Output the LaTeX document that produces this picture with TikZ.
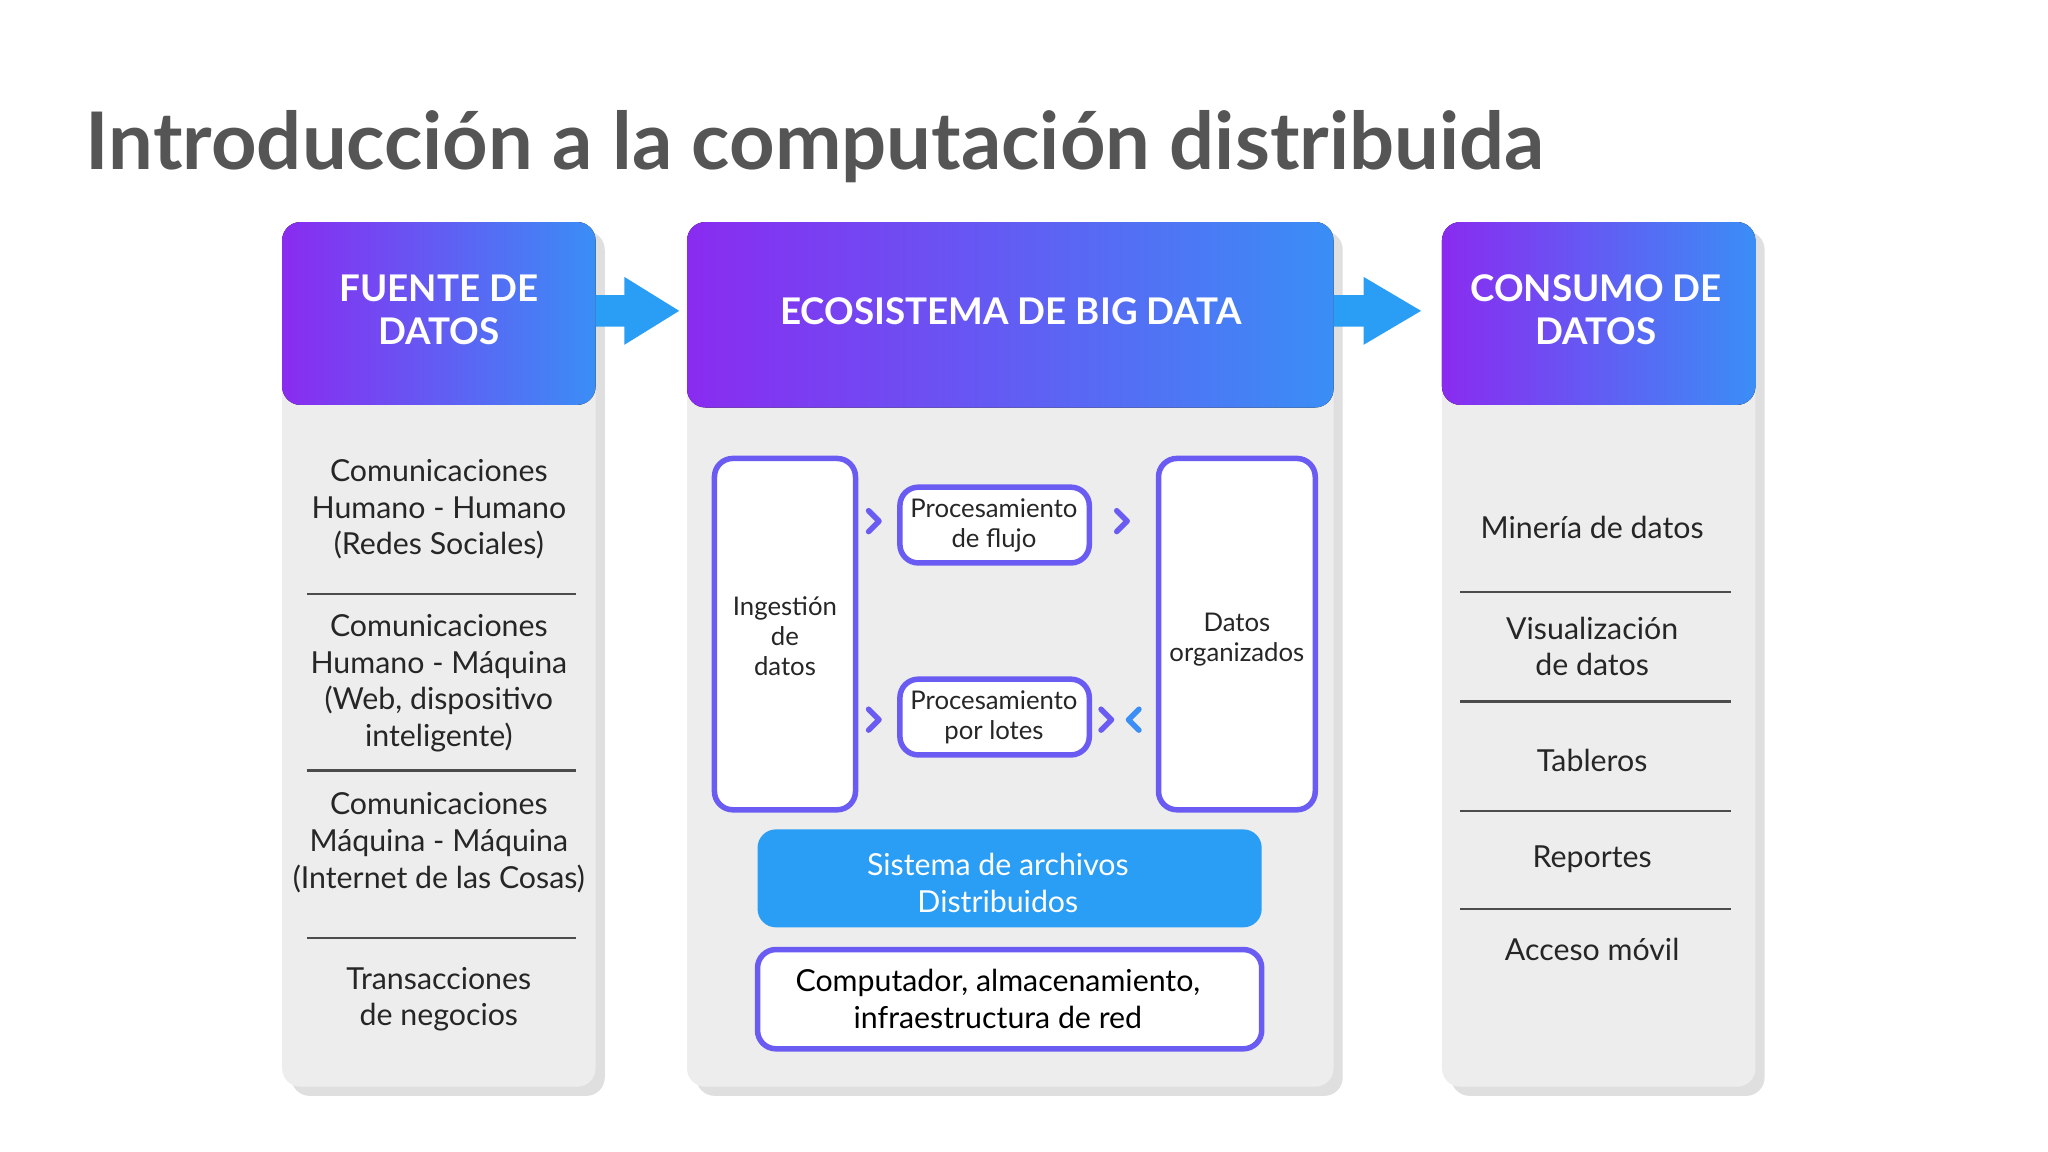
\documentclass[tikz,border=0pt]{standalone}
\usepackage{fontspec}
\setmainfont{Lato}
\usetikzlibrary{shadows,arrows.meta}
\definecolor{pur}{HTML}{8A2BF0}
\definecolor{blu}{HTML}{3A8EF6}
\definecolor{mid}{HTML}{6A5CF2}
\definecolor{panel}{HTML}{EDEDED}
\definecolor{sky}{HTML}{2A9DF4}
\definecolor{ttl}{HTML}{555555}
\tikzset{
 panelbox/.style={fill=panel,rounded corners=4pt,drop shadow={shadow xshift=2pt,shadow yshift=-2pt,opacity=0.25}},
 headbox/.style={left color=pur,right color=blu,rounded corners=4pt},
 headtxt/.style={text=white,font=\fontsize{8pt}{9.4pt}\selectfont\bfseries,align=center},
 bodytxt/.style={text=black!85,font=\fontsize{6.6pt}{8pt}\selectfont,align=center},
 smalltxt/.style={text=black!85,font=\fontsize{5.6pt}{6.5pt}\selectfont,align=center},
 wbox/.style={draw=mid,line width=1.2pt,fill=white,rounded corners=4pt},
 sep/.style={draw=black!70,line width=0.5pt},
 chevr/.style={line width=1.2pt,line cap=round,line join=round},
 bigarrow/.style={fill=sky,draw=none}
}
\begin{document}
\begin{tikzpicture}[x=0.01cm,y=-0.01cm]
\useasboundingbox (0,0) rectangle (1568,882);
\node[anchor=base west,text=ttl,font=\fontsize{17.3pt}{20pt}\selectfont\bfseries,inner sep=0] (title) at (65,130) {Introducción a la computación distribuida};
% panels
\fill[panelbox] (216,170) rectangle (456,832);
\fill[panelbox] (526,170) rectangle (1021,832);
\fill[panelbox] (1104,170) rectangle (1344,832);
\fill[headbox] (216,170) rectangle (456,310);
\fill[headbox] (526,170) rectangle (1021,312);
\fill[headbox] (1104,170) rectangle (1344,310);
\node[headtxt] (h1) at (336,237) {FUENTE DE\\DATOS};
\node[headtxt] (h2) at (774,238) {ECOSISTEMA DE BIG DATA};
\node[headtxt] (h3) at (1222,237) {CONSUMO DE\\DATOS};
% arrows
\fill[bigarrow] (456,226) -- (478,226) -- (478,212) -- (520,238) -- (478,264) -- (478,250) -- (456,250) -- cycle;
\fill[bigarrow] (1021,226) -- (1044,226) -- (1044,212) -- (1088,238) -- (1044,264) -- (1044,250) -- (1021,250) -- cycle;
% left
\node[bodytxt] (l1) at (336,390) {Comunicaciones\\Humano - Humano\\(Redes Sociales)};
\node[bodytxt] (l2) at (336,523) {Comunicaciones\\Humano - Máquina\\(Web, dispositivo\\inteligente)};
\node[bodytxt] (l3) at (336,645) {Comunicaciones\\Máquina - Máquina\\(Internet de las Cosas)};
\node[bodytxt] (l4) at (336,765) {Transacciones\\de negocios};
\draw[sep] (235,455) -- (441,455);
\draw[sep] (235,590) -- (441,590);
\draw[sep] (235,718) -- (441,718);
% right
\node[bodytxt] (r1) at (1219,404) {Minería de datos};
\node[bodytxt] (r2) at (1219,495) {Visualización\\de datos};
\node[bodytxt] (r3) at (1219,582) {Tableros};
\node[bodytxt] (r4) at (1219,658) {Reportes};
\node[bodytxt] (r5) at (1219,727) {Acceso móvil};
\draw[sep] (1118,453) -- (1325,453);
\draw[sep] (1118,537) -- (1325,537);
\draw[sep] (1118,621) -- (1325,621);
\draw[sep] (1118,696) -- (1325,696);
% middle
\draw[wbox] (547,351) rectangle (655,620);
\node[smalltxt] (ing) at (601,487) {Ingestión\\de\\datos};
\draw[wbox] (689,373) rectangle (834,431);
\node[smalltxt] (pf) at (761,402) {Procesamiento\\de flujo};
\draw[wbox] (689,520) rectangle (834,578);
\node[smalltxt] (pl) at (761,549) {Procesamiento\\por lotes};
\draw[wbox] (887,351) rectangle (1007,620);
\node[smalltxt] (dor) at (947,490) {Datos\\organizados};
\draw[chevr,draw=mid] (665,391) -- (673,399) -- (665,407);
\draw[chevr,draw=mid] (855,391) -- (863,399) -- (855,407);
\draw[chevr,draw=mid] (665,543) -- (673,551) -- (665,559);
\draw[chevr,draw=mid] (843,543) -- (851,551) -- (843,559);
\draw[chevr,draw=blu] (872,543) -- (864,551) -- (872,559);
\fill[sky,rounded corners=4pt] (580,635) rectangle (966,710);
\node[bodytxt,text=white] (sa) at (764,676) {Sistema de archivos\\Distribuidos};
\draw[wbox] (580,727) rectangle (966,803);
\node[bodytxt,text=black] (cp) at (764,765) {Computador, almacenamiento,\\infraestructura de red};
\end{tikzpicture}
\end{document}
